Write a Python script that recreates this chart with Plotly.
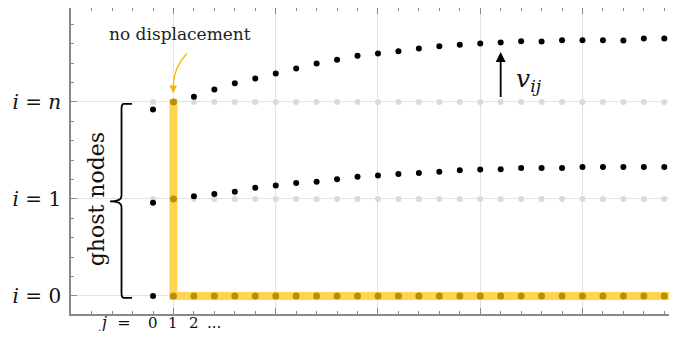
import plotly.graph_objects as go

# ---- data ----
j_cols = list(range(26))                       # column index j = 0..25 (0 = ghost)
row_levels = [0, 1, 2]                          # i = 0, i = 1, i = n (plotted at 2)
row_labels = ["<i>i</i> = 0", "<i>i</i> = 1", "<i>i</i> = <i>n</i>"]
x_label_pos = [0, 1, 2, 3]
x_label_text = ["0", "1", "2", "..."]

# displacement v_ij of row i = n (data units)
disp_top = [-0.077, 0.0, 0.054, 0.129, 0.194, 0.242, 0.294, 0.345, 0.397, 0.435,
            0.476, 0.500, 0.524, 0.552, 0.575, 0.590, 0.603, 0.613, 0.627, 0.624,
            0.637, 0.637, 0.637, 0.634, 0.655, 0.655]
# displacement v_ij of row i = 1
disp_mid = [-0.038, 0.0, 0.027, 0.052, 0.075, 0.116, 0.140, 0.165, 0.178, 0.204,
            0.230, 0.243, 0.258, 0.268, 0.281, 0.295, 0.305, 0.307, 0.320, 0.320,
            0.320, 0.330, 0.330, 0.330, 0.330, 0.330]
# displacement of row i = 0 (only ghost node shown in black)
disp_bot = [0.0] * 26

SERIF = "DejaVu Serif, Liberation Serif, serif"
BAND = "#FFD451"
OLIVE = "#b98f06"
GREY_DOT = "#dadada"
ARROW_Y = "#F2B705"

X_RANGE = [-4.01, 25.23]
Y_RANGE = [-0.186, 2.969]

fig = go.Figure()

# reference (undisplaced) grid nodes, light grey
for lvl in (1, 2):
    fig.add_trace(go.Scatter(x=j_cols, y=[lvl] * len(j_cols), mode="markers",
                             marker=dict(size=6, color=GREY_DOT), hoverinfo="skip",
                             showlegend=False, cliponaxis=False))

# fixed (no displacement) nodes on the yellow boundary
fixed_x = [1, 1] + j_cols[1:]
fixed_y = [1, 2] + [0] * (len(j_cols) - 1)
fig.add_trace(go.Scatter(x=fixed_x, y=fixed_y, mode="markers",
                         marker=dict(size=7, color=OLIVE), hoverinfo="skip",
                         showlegend=False))

# displaced nodes, black (skip boundary column j=1)
disp_x, disp_y = [], []
for lvl, disp in ((2, disp_top), (1, disp_mid)):
    for jj, d in zip(j_cols, disp):
        if jj == 1:
            continue
        disp_x.append(jj)
        disp_y.append(lvl + d)
disp_x.append(0)
disp_y.append(0 + disp_bot[0])
fig.add_trace(go.Scatter(x=disp_x, y=disp_y, mode="markers",
                         marker=dict(size=6, color="black"), hoverinfo="skip",
                         showlegend=False))

# yellow boundary band (vertical at j=1 and horizontal at i=0)
fig.add_shape(type="rect", xref="x", yref="y", x0=0.805, x1=1.195, y0=-0.041, y1=2.03,
              fillcolor=BAND, line=dict(width=0), layer="between")
fig.add_shape(type="rect", xref="x", yref="y", x0=0.805, x1=26, y0=-0.041, y1=0.041,
              fillcolor=BAND, line=dict(width=0), layer="between")

# curly bracket for ghost nodes
fig.add_shape(type="path", xref="x", yref="y",
              path=("M -1.03,1.98 L -1.42,1.98 Q -1.54,1.98 -1.54,1.93 L -1.54,1.03 "
                    "Q -1.54,0.975 -2.10,0.975 Q -1.54,0.975 -1.54,0.92 L -1.54,0.03 "
                    "Q -1.54,-0.02 -1.42,-0.02 L -1.03,-0.02"),
              line=dict(color="black", width=1.8))
fig.add_annotation(x=-2.72, y=1.0, xref="x", yref="y", text="ghost nodes",
                   textangle=-90, showarrow=False,
                   font=dict(family=SERIF, size=22, color="#111"))

# "no displacement" label with curved arrow
fig.add_annotation(x=1.32, y=2.70, xref="x", yref="y", text="no displacement",
                   showarrow=False, font=dict(family=SERIF, size=17, color="#222"))
fig.add_shape(type="path", xref="x", yref="y",
              path="M 1.66,2.50 Q 1.02,2.36 0.99,2.17",
              line=dict(color=ARROW_Y, width=1.3))
fig.add_annotation(x=0.99, y=2.09, xref="x", yref="y", ax=0, ay=-9, text="",
                   showarrow=True, arrowhead=2, arrowsize=1.2, arrowwidth=1.3,
                   arrowcolor=ARROW_Y, standoff=0)

# displacement arrow v_ij at j = 17
fig.add_annotation(x=17, y=2.515, ax=17, ay=2.035, xref="x", yref="y",
                   axref="x", ayref="y", text="", showarrow=True, arrowhead=2,
                   arrowsize=1.1, arrowwidth=1.8, arrowcolor="black", standoff=0)
fig.add_annotation(x=18.4, y=2.23, xref="x", yref="y",
                   text="<i>v</i><sub><i>ij</i></sub>", showarrow=False,
                   font=dict(family=SERIF, size=25, color="#111"))

# x labels (j = 0 1 2 ...) placed below the axis (paper y so they are not hidden)
LABEL_Y = -0.0294
fig.add_annotation(x=-1.85, y=LABEL_Y, xref="x", yref="paper", text="<i>j</i>  =",
                   yanchor="middle", showarrow=False,
                   font=dict(family=SERIF, size=16, color="#111"))
for xp, tx in zip(x_label_pos, x_label_text):
    fig.add_annotation(x=xp, y=LABEL_Y, xref="x", yref="paper", text=tx,
                       yanchor="middle", showarrow=False,
                       font=dict(family=SERIF, size=15, color="#111"))

# page body has an 8px margin: size/margins compensate so the plot sits as in reference
fig.update_layout(
    width=661, height=323,
    margin=dict(l=63, r=0, t=0, b=17, autoexpand=False),
    plot_bgcolor="white", paper_bgcolor="white",
    showlegend=False,
)
fig.update_xaxes(range=X_RANGE, tickmode="array", tickvals=[1, 6, 11, 16, 21],
                 showticklabels=False, ticks="inside", ticklen=6, tickcolor="#888",
                 showgrid=True, gridcolor="#e3e3e3", gridwidth=1, zeroline=False,
                 showline=True, linecolor="#888", linewidth=1.6, mirror="ticks",
                 automargin=False,
                 minor=dict(tickmode="linear", tick0=0, dtick=1, ticks="inside",
                            ticklen=3.5, tickcolor="#888", showgrid=False))
fig.update_yaxes(range=Y_RANGE, tickmode="array", tickvals=row_levels,
                 ticktext=row_labels, ticks="inside", ticklen=6, tickcolor="#888",
                 tickfont=dict(family=SERIF, size=20, color="#111"),
                 ticklabelstandoff=4, automargin=False,
                 showgrid=True, gridcolor="#e3e3e3", gridwidth=1, zeroline=False,
                 showline=True, linecolor="#888", linewidth=1.6,
                 minor=dict(tickmode="linear", tick0=0, dtick=0.2, ticks="inside",
                            ticklen=3.5, tickcolor="#888", showgrid=False))

fig.write_html("out.html")
